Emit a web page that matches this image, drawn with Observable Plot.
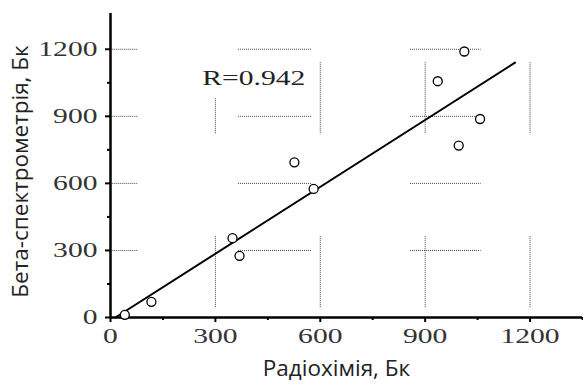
<!DOCTYPE html>
<html>
<head>
<meta charset="utf-8">
<script src="https://cdn.jsdelivr.net/npm/d3@7"></script>
<script src="https://cdn.jsdelivr.net/npm/@observablehq/plot@0.6"></script>
<style>
  html, body { margin: 0; padding: 0; background: #fff; }
</style>
</head>
<body>
<div id="chart"></div>
<script>
// Data
const radiochem = [41, 117, 349, 369, 526, 581, 936, 996, 1012, 1057];
const betaSpec  = [12, 70, 355, 276, 694, 575, 1057, 769, 1190, 888];
// regression line end points
const fitX = [14, 1157];
const fitY = [0, 1140];
const rLabel = "R=0.942";
const xTitle = "Радіохімія, Бк";
const yTitle = "Бета-спектрометрія, Бк";
const majorTicks = [0, 300, 600, 900, 1200];
const minorTicksX = [150, 450, 750, 1050, 1350];
const minorTicksY = [150, 450, 750, 1050];
const gridVals = [300, 600, 900, 1200];
// partial dotted grid segments (data ranges)
const hSegRanges = [[5, 80], [366, 576], [858, 1060]];
const vSegRanges = [[44, 366], [822, 1140]];
const vSegTop300 = [822, 980];

const points = radiochem.map((x, i) => ({x, y: betaSpec[i]}));
const fit = fitX.map((x, i) => ({x, y: fitY[i]}));
const hSegs = [];
for (const y of gridVals) for (const [a, b] of hSegRanges) hSegs.push({x1: a, x2: b, y});
const vSegs = [];
for (const x of gridVals) for (const [a, b] of vSegRanges) {
  const r = (x === 300 && a === 822) ? vSegTop300 : [a, b];
  vSegs.push({x, y1: r[0], y2: r[1]});
}

const serif = "Liberation Serif, Times New Roman, serif";
const sans = "Open Sans, Noto Sans, sans-serif";

const chart = Plot.plot({
  width: 583,
  height: 387,
  marginLeft: 110,
  marginRight: 1,
  marginTop: 13,
  marginBottom: 70,
  x: {domain: [0, 1350], axis: null},
  y: {domain: [0, 1360], axis: null},
  style: {background: "#fff"},
  marks: [
    Plot.ruleY(hSegs, {x1: "x1", x2: "x2", y: "y", stroke: "#444", strokeWidth: 1, strokeDasharray: "1,1"}),
    Plot.ruleX(vSegs, {x: "x", y1: "y1", y2: "y2", stroke: "#444", strokeWidth: 1, strokeDasharray: "1,1"}),
    Plot.axisX(minorTicksX, {tickSize: 3, tickFormat: () => "", strokeWidth: 2, stroke: "#000"}),
    Plot.axisY(minorTicksY, {tickSize: 3, tickFormat: () => "", strokeWidth: 2, stroke: "#000"}),
    Plot.axisX(majorTicks, {tickSize: 5, tickPadding: 6, strokeWidth: 2, stroke: "#000", fill: "#333",
      fontSize: 20, fontFamily: serif, tickFormat: d => String(d), label: null}),
    Plot.axisY(majorTicks, {tickSize: 5, tickPadding: 8, strokeWidth: 2, stroke: "#000", fill: "#333",
      fontSize: 20, fontFamily: serif, tickFormat: d => String(d), label: null}),
    Plot.ruleY([0], {stroke: "#000", strokeWidth: 2.5}),
    Plot.ruleX([0], {stroke: "#000", strokeWidth: 2.5}),
    Plot.line(fit, {x: "x", y: "y", stroke: "#000", strokeWidth: 2}),
    Plot.dot(points, {x: "x", y: "y", r: 4.5, stroke: "#000", fill: "#fff", strokeWidth: 1.3}),
    Plot.text([rLabel], {x: 410, y: 1067, text: d => d, fontSize: 20, fontFamily: serif, fill: "#222"}),
    Plot.text([xTitle], {frameAnchor: "bottom", text: d => d, dx: -10, dy: 58, fontSize: 22.5, fontFamily: sans, fill: "#222"}),
    Plot.text([yTitle], {frameAnchor: "left", textAnchor: "middle", text: d => d, rotate: -90, dx: -90, dy: 6, fontSize: 22.5, fontFamily: sans, fill: "#222"})
  ]
});
document.getElementById("chart").appendChild(chart);

// horizontally stretched serif numerals, as in the reference
d3.select(chart).selectAll("text").each(function () {
  const ff = getComputedStyle(this).fontFamily || "";
  if (ff.includes("Liberation Serif") && this.textContent.trim() !== "") {
    const len = this.getComputedTextLength();
    this.setAttribute("textLength", (len * 1.48).toFixed(1));
    this.setAttribute("lengthAdjust", "spacingAndGlyphs");
  }
});
</script>
</body>
</html>
